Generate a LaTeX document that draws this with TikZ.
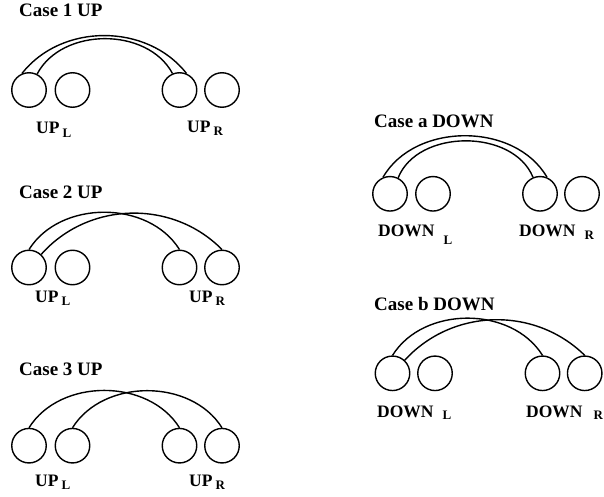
\documentclass[tikz,border=0pt]{standalone}
\usepackage{fontspec}
\setmainfont{Liberation Serif}
% main word, gap, drop of the index, index letter
\newcommand{\sublab}[4]{#1\hspace{#2}\raisebox{-#3}{\fontsize{13}{15}\selectfont #4}}
\begin{document}
\begin{tikzpicture}[x=1pt,y=1pt,
  ball/.style={circle,draw,line width=1.4pt,minimum size=34.5pt,inner sep=0pt},
  link/.style={line width=1.4pt},
  ttl/.style={anchor=base west,inner sep=0pt,font=\fontsize{19}{22}\selectfont\bfseries},
  lbl/.style={anchor=base west,inner sep=0pt,font=\fontsize{17.5}{20}\selectfont\bfseries}]
\useasboundingbox (0,0) rectangle (604,496);

% ---------- Case 1 UP ----------
\node[ttl] (t1) at (19,479) {Case 1 UP};
\node[ball] (u1a) at (29,406) {};
\node[ball] (u1b) at (72.5,406) {};
\node[ball] (u1c) at (179.5,406) {};
\node[ball] (u1d) at (222,406) {};
\draw[link] (u1a.113) to[bend left=52] (u1c.67);
\draw[link] (u1a.63) to[bend left=62] (u1c.113);
\node[lbl] (l1l) at (36,362) {\sublab{UP}{3pt}{3.3pt}{L}};
\node[lbl] (l1r) at (187,363) {\sublab{UP}{3pt}{3pt}{R}};

% ---------- Case 2 UP ----------
\node[ttl] (t2) at (19,298) {Case 2 UP};
\node[ball] (u2a) at (29,228.5) {};
\node[ball] (u2b) at (72.5,228.5) {};
\node[ball] (u2c) at (179.5,228.5) {};
\node[ball] (u2d) at (222,228.5) {};
\draw[link] (u2a.90) to[bend left=58] (u2c.90);
\draw[link] (u2a.47) to[bend left=47] (u2d.90);
\node[lbl] (l2l) at (35,194) {\sublab{UP}{3pt}{3pt}{L}};
\node[lbl] (l2r) at (189,194) {\sublab{UP}{3pt}{3pt}{R}};

% ---------- Case 3 UP ----------
\node[ttl] (t3) at (19,121) {Case 3 UP};
\node[ball] (u3a) at (29,50.3) {};
\node[ball] (u3b) at (72.5,50.3) {};
\node[ball] (u3c) at (179.5,50.3) {};
\node[ball] (u3d) at (222,50.3) {};
\draw[link] (u3a.90) to[bend left=58] (u3c.90);
\draw[link] (u3b.90) to[bend left=58] (u3d.90);
\node[lbl] (l3l) at (35,10) {\sublab{UP}{3pt}{3pt}{L}};
\node[lbl] (l3r) at (189,10) {\sublab{UP}{3pt}{3pt}{R}};

% ---------- Case a DOWN ----------
\node[ttl] (ta) at (374,368) {Case a DOWN};
\node[ball] (daa) at (390,302.2) {};
\node[ball] (dab) at (433,302.2) {};
\node[ball] (dac) at (540,302.2) {};
\node[ball] (dad) at (582,302.2) {};
\draw[link] (daa.113) to[bend left=60] (dac.67);
\draw[link] (daa.63) to[bend left=68] (dac.113);
\node[lbl] (lal) at (378,259.3) {\sublab{DOWN}{9pt}{8pt}{L}};
\node[lbl] (lar) at (519,260) {\sublab{DOWN}{9pt}{3pt}{R}};

% ---------- Case b DOWN ----------
\node[ttl] (tb) at (374,186) {Case b DOWN};
\node[ball] (dba) at (392.5,122.7) {};
\node[ball] (dbb) at (435,122.7) {};
\node[ball] (dbc) at (542.5,122.7) {};
\node[ball] (dbd) at (584.7,122.7) {};
\draw[link] (dba.90) to[bend left=58] (dbc.90);
\draw[link] (dba.47) to[bend left=46] (dbd.90);
\node[lbl] (lbl) at (377,79) {\sublab{DOWN}{9pt}{2pt}{L}};
\node[lbl] (lbr) at (526,79) {\sublab{DOWN}{11pt}{2pt}{R}};
\end{tikzpicture}
\end{document}
